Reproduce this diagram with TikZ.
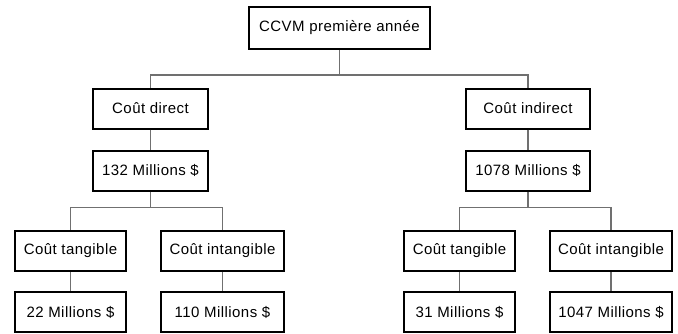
\documentclass[tikz,border=0pt]{standalone}
\usepackage{fontspec}
\setmainfont{Liberation Sans}[LetterSpace=3]
\begin{document}
\begin{tikzpicture}[x=1pt,y=-1pt,
  costbox/.style={draw,line width=2pt,minimum height=40,inner sep=0pt,font=\fontsize{15}{18}\selectfont},
  link/.style={draw=linegray,line width=1.2pt}]
\definecolor{linegray}{HTML}{707070}
\useasboundingbox (0,0) rectangle (678,333);
\node [costbox,minimum width=181,minimum height=42] (ccvm) at (339.5,28) {CCVM première année};
\node [costbox,minimum width=115] (direct) at (150.5,108.5) {Coût direct};
\node [costbox,minimum width=115] (m132) at (150.5,170.5) {132 Millions \$};
\node [costbox,minimum width=124] (indirect) at (528,108.5) {Coût indirect};
\node [costbox,minimum width=124] (m1078) at (528,170.5) {1078 Millions \$};
\draw [link] (ccvm.south) -- ++(0,25) coordinate (tj) (tj) -| (direct.north) (tj) -| (indirect.north);
\draw [link] (direct) -- (m132);
\draw [link] (indirect) -- (m1078);
  \foreach \nm/\x/\w/\txt/\val in {lt/70.5/111/Coût tangible/22,li/222.5/123/Coût intangible/110,
    rt/459.5/111/Coût tangible/31,ri/611/122/Coût intangible/1047}
  {  \node [costbox,minimum width=\w] (\nm) at (\x,251) {\txt};
     \node [costbox,minimum width=\w] (\nm v) at (\x,312) {\val\ Millions \$};
     \draw [link] (\nm) -- (\nm v);}
\draw [link] (m132.south) -- ++(0,16) coordinate (lj) (lj) -| (lt.north) (lj) -| (li.north);
\draw [link] (m1078.south) -- ++(0,16) coordinate (rj) (rj) -| (rt.north) (rj) -| (ri.north);
\end{tikzpicture}
\end{document}
